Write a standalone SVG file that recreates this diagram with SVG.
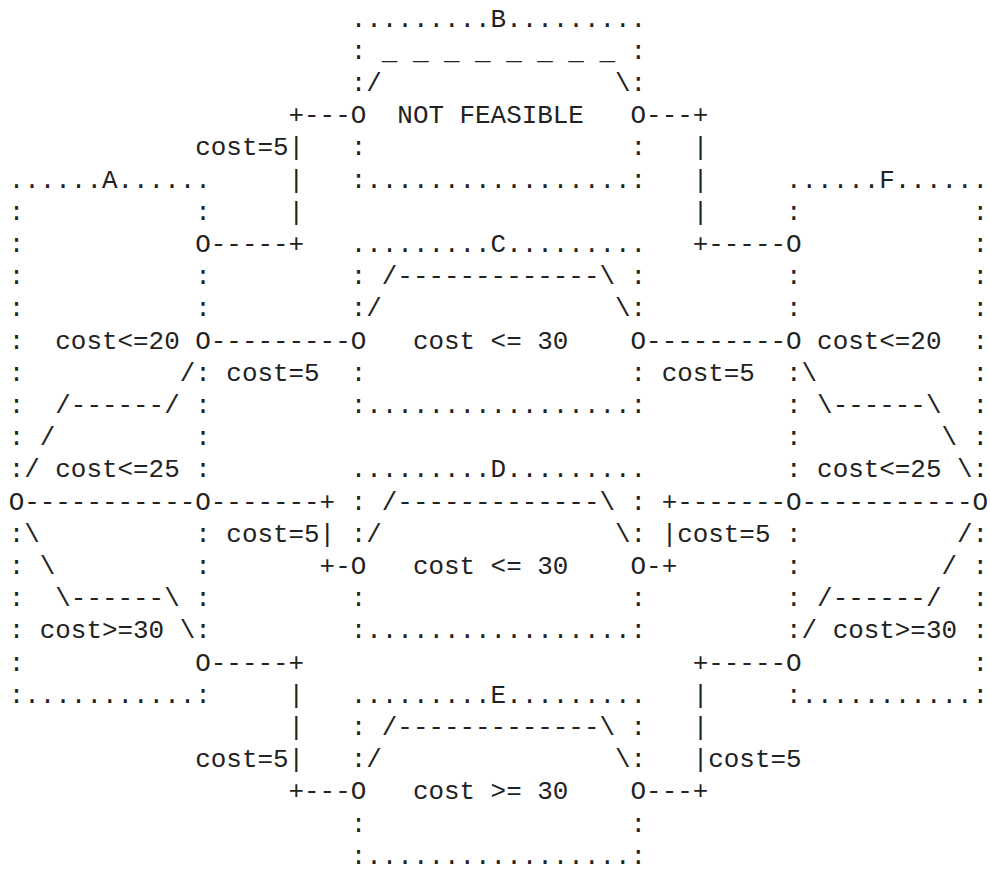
<svg xmlns="http://www.w3.org/2000/svg" width="990" height="871" viewBox="0 0 990 871">
<style>
text { font-family: "Liberation Mono", "DejaVu Sans Mono", monospace; font-size: 25.91px; fill: #222222; white-space: pre; }
</style>
<rect x="0" y="0" width="990" height="871" fill="#ffffff"/>
<g id="ascii-diagram" xml:space="preserve">
<text x="8.7" y="26.5">                      .........B.........</text>
<text x="8.7" y="58.7">                      : _ _ _ _ _ _ _ _ :</text>
<text x="8.7" y="90.9">                      :/               \:</text>
<text x="8.7" y="123.1">                  +---O  NOT FEASIBLE   O---+</text>
<text x="8.7" y="155.3">            cost=5|   :                 :   |</text>
<text x="8.7" y="187.5">......A......     |   :.................:   |     ......F......</text>
<text x="8.7" y="219.7">:           :     |                         |     :           :</text>
<text x="8.7" y="251.9">:           O-----+   .........C.........   +-----O           :</text>
<text x="8.7" y="284.1">:           :         : /-------------\ :         :           :</text>
<text x="8.7" y="316.3">:           :         :/               \:         :           :</text>
<text x="8.7" y="348.5">:  cost&lt;=20 O---------O   cost &lt;= 30    O---------O cost&lt;=20  :</text>
<text x="8.7" y="380.7">:          /: cost=5  :                 : cost=5  :\          :</text>
<text x="8.7" y="412.9">:  /------/ :         :.................:         : \------\  :</text>
<text x="8.7" y="445.1">: /         :                                     :         \ :</text>
<text x="8.7" y="477.3">:/ cost&lt;=25 :         .........D.........         : cost&lt;=25 \:</text>
<text x="8.7" y="509.5">O-----------O-------+ : /-------------\ : +-------O-----------O</text>
<text x="8.7" y="541.7">:\          : cost=5| :/               \: |cost=5 :          /:</text>
<text x="8.7" y="573.9">: \         :       +-O   cost &lt;= 30    O-+       :         / :</text>
<text x="8.7" y="606.1">:  \------\ :         :                 :         : /------/  :</text>
<text x="8.7" y="638.3">: cost&gt;=30 \:         :.................:         :/ cost&gt;=30 :</text>
<text x="8.7" y="670.5">:           O-----+                         +-----O           :</text>
<text x="8.7" y="702.7">:...........:     |   .........E.........   |     :...........:</text>
<text x="8.7" y="734.9">                  |   : /-------------\ :   |</text>
<text x="8.7" y="767.1">            cost=5|   :/               \:   |cost=5</text>
<text x="8.7" y="799.3">                  +---O   cost &gt;= 30    O---+</text>
<text x="8.7" y="831.5">                      :                 :</text>
<text x="8.7" y="863.7">                      :.................:</text>
</g>
</svg>
